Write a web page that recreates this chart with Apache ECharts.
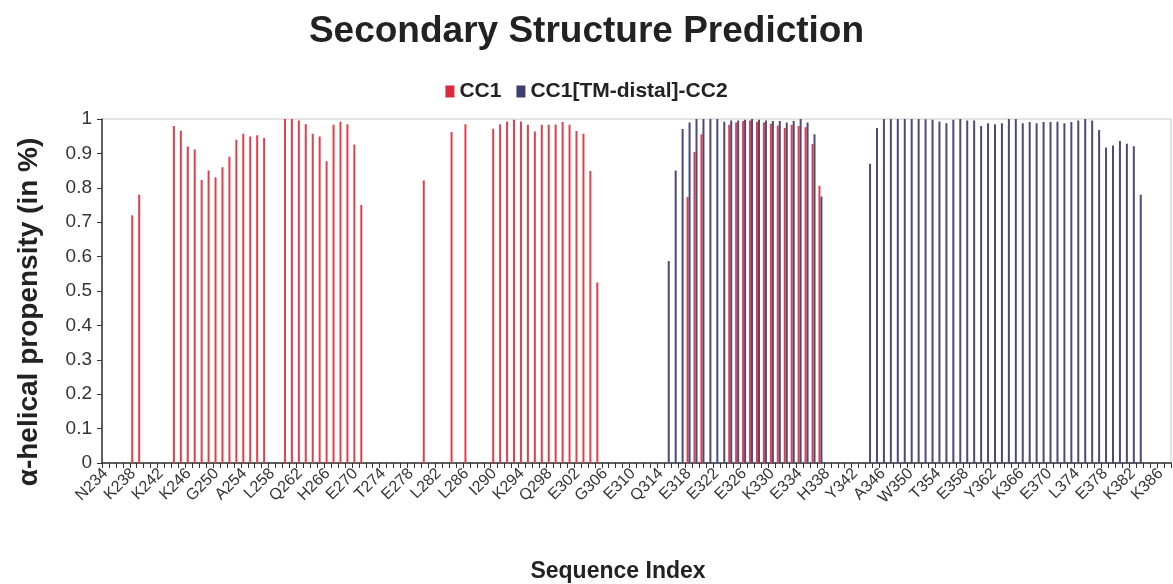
<!DOCTYPE html>
<html>
<head>
<meta charset="utf-8">
<script src="https://cdn.jsdelivr.net/npm/echarts@6/dist/echarts.min.js"></script>
<style>
html,body{margin:0;padding:0;background:#fff;}
#chart{width:1173px;height:584px;}
</style>
</head>
<body>
<div id="chart"></div>
<script>
// Residues 234..387 (one-letter codes); category labels = letter + residue number
const firstResidue = 234;
const residueSeq = "NRYSKEHMKK" + "MMKDLEGLHR" + "AEQSLHDLQE" + "RLHKAQEEHR" + "TVEVEKVHLE" +
                   "KKLRDEINLA" + "KQEAQRLKEL" + "REGTENERSR" + "QKYAEEELEQ" + "VREALRKAEK" +
                   "ELESHSSWYA" + "PEALQKWLQL" + "THEVEVQYYN" + "IKKQNAEKQL" + "LVAKEGAEKI" + "KKKR";

// CC1 runs: [first residue, values...]
const cc1Run1 = [238, [0.72, 0.78]];
const cc1Run2 = [244, [0.98, 0.966, 0.92, 0.911, 0.823, 0.85, 0.831, 0.86, 0.89, 0.94, 0.957, 0.949, 0.953, 0.945]];
const cc1Run3 = [260, [1.0, 1.0, 0.996, 0.985, 0.957, 0.949, 0.877, 0.983, 0.992, 0.985, 0.926, 0.75]];
const cc1Run4 = [280, [0.821]];
const cc1Run5 = [284, [0.962]];
const cc1Run6 = [286, [0.985]];
const cc1Run7 = [290, [0.972, 0.985, 0.993, 0.998, 0.993, 0.983, 0.964, 0.983, 0.983, 0.984, 0.991, 0.983, 0.965, 0.957, 0.849, 0.525]];
const cc1Run8 = [318, [0.773, 0.904, 0.956]];
const cc1Run9 = [324, [0.983, 0.99, 0.994, 0.996, 0.992, 0.99, 0.986, 0.981, 0.974, 0.983, 0.98, 0.976, 0.927, 0.806]];

// CC1[TM-distal]-CC2 runs
const cc2Run1 = [315, [0.587, 0.85, 0.971, 0.99, 1.0, 1.0, 1.0, 1.0, 0.992, 0.996, 0.996, 0.998, 1.0, 0.998, 0.996, 0.994, 0.994, 0.99, 0.994, 1.0, 0.99, 0.956, 0.775]];
const cc2Run2 = [344, [0.87, 0.974, 1.0, 1.0, 1.0, 1.0, 1.0, 1.0, 0.999, 0.998, 0.993, 0.988, 0.998, 1.0, 0.996, 0.996, 0.98, 0.988, 0.985, 0.988, 1.0, 1.0, 0.988, 0.991, 0.988, 0.991, 0.991, 0.992, 0.988, 0.991, 0.996, 1.0, 0.996, 0.968, 0.917, 0.923, 0.936, 0.928, 0.921, 0.78]];

const yTicks = [0, 0.1, 0.2, 0.3, 0.4, 0.5, 0.6, 0.7, 0.8, 0.9, 1];

const categories = residueSeq.split('').map((c, i) => c + (firstResidue + i));
function build(runs) {
  const arr = categories.map(() => null);
  runs.forEach(([start, vals]) => vals.forEach((v, k) => { arr[start - firstResidue + k] = v; }));
  return arr;
}
const cc1Data = build([cc1Run1, cc1Run2, cc1Run3, cc1Run4, cc1Run5, cc1Run6, cc1Run7, cc1Run8, cc1Run9]);
const cc2Data = build([cc2Run1, cc2Run2]);

const RED = '#e0404b';
const BLUE = '#4a4a7c';
const chart = echarts.init(document.getElementById('chart'), null, {renderer: 'canvas'});
chart.setOption({
  animation: false,
  backgroundColor: '#fff',
  title: {
    text: 'Secondary Structure Prediction',
    left: 'center', top: 8,
    textStyle: {fontFamily: 'Liberation Sans', fontWeight: 'bold', fontSize: 37, color: '#222'}
  },
  legend: {
    top: 76, left: 'center',
    itemWidth: 9, itemHeight: 12, itemGap: 15,
    icon: 'rect',
    textStyle: {fontFamily: 'Liberation Sans', fontWeight: 'bold', fontSize: 21, color: '#222'},
    data: [
      {name: 'CC1', itemStyle: {color: '#d92b3e'}},
      {name: 'CC1[TM-distal]-CC2', itemStyle: {color: '#404070'}}
    ]
  },
  grid: {left: 102, right: 2, top: 119, bottom: 121, show: true, borderColor: '#c8c8c8', borderWidth: 1},
  xAxis: {
    type: 'category',
    data: categories,
    boundaryGap: true,
    axisLine: {lineStyle: {color: '#333', width: 1.5}},
    axisTick: {show: true, interval: 0, length: 5, lineStyle: {color: '#333'}},
    axisLabel: {
      interval: 3, rotate: 45, margin: 8,
      fontFamily: 'Liberation Sans', fontSize: 16, color: '#333'
    },
    splitLine: {show: false}
  },
  yAxis: {
    type: 'value', min: 0, max: 1, interval: 0.1,
    axisLine: {show: true, lineStyle: {color: '#333', width: 1.5}},
    axisTick: {show: true, length: 5, lineStyle: {color: '#333'}},
    axisLabel: {
      margin: 10, fontFamily: 'Liberation Sans', fontSize: 19, color: '#333',
      formatter: v => { const t = yTicks.find(x => Math.abs(x - v) < 1e-6); return t === undefined ? '' : String(t); }
    },
    splitLine: {show: false}
  },
  graphic: [
    {type: 'text', x: 29, y: 312, rotation: Math.PI / 2,
     style: {text: 'α-helical propensity (in %)', fontFamily: 'Liberation Sans', fontWeight: 'bold', fontSize: 28, fill: '#222', textAlign: 'center', textVerticalAlign: 'middle'}},
    {type: 'text', x: 618, y: 572,
     style: {text: 'Sequence Index', fontFamily: 'Liberation Sans', fontWeight: 'bold', fontSize: 23, fill: '#222', textAlign: 'center', textVerticalAlign: 'middle'}}
  ],
  series: [
    {name: 'CC1', type: 'bar', data: cc1Data, barWidth: 2, barGap: '0%', itemStyle: {color: RED}},
    {name: 'CC1[TM-distal]-CC2', type: 'bar', data: cc2Data, barWidth: 2, barGap: '0%', itemStyle: {color: BLUE}}
  ]
});
</script>
</body>
</html>
